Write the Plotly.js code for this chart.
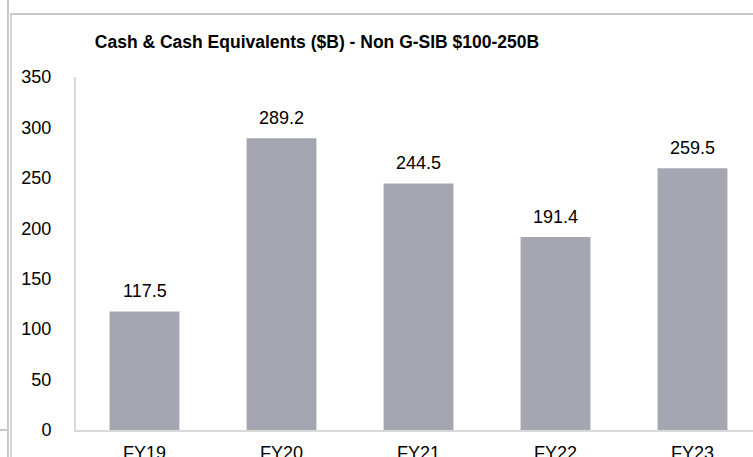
<!DOCTYPE html>
<html>
<head>
<meta charset="utf-8">
<script src="https://cdn.plot.ly/plotly-3.0.1.min.js"></script>
<style>
html,body{margin:0;padding:0;background:#fff;overflow:hidden;width:753px;height:457px;}
#wrap{position:relative;width:753px;height:457px;overflow:hidden;}
#chart{position:absolute;left:0;top:0;width:771px;height:457px;}
.ln{position:absolute;background:#c9c9c9;z-index:5;}
</style>
</head>
<body>
<div id="wrap">
<div id="chart"></div>
<div class="ln" style="left:7px;top:0;width:2px;height:457px;"></div>
<div class="ln" style="left:10px;top:13px;width:2px;height:444px;background:#d6d6d6;"></div>
<div class="ln" style="left:10px;top:13px;width:743px;height:2px;"></div>
<div class="ln" style="left:0;top:429px;width:7px;height:2px;"></div>
</div>
<script>
const categories = ["FY19", "FY20", "FY21", "FY22", "FY23"];
const values = [117.5, 289.2, 244.5, 191.4, 259.5];
const valueLabels = ["117.5", "289.2", "244.5", "191.4", "259.5"];
const yTicks = [0, 50, 100, 150, 200, 250, 300, 350];
const chartTitle = "Cash & Cash Equivalents ($B) - Non G-SIB $100-250B";

const font = "Arial, 'Liberation Sans', sans-serif";

const trace = {
  type: "bar",
  x: categories,
  y: values,
  marker: {color: "#a5a6b1"},
  hoverinfo: "none"
};

const annotations = categories.map((c, i) => ({
  x: c, y: values[i], xref: "x", yref: "y",
  text: valueLabels[i], showarrow: false,
  yanchor: "bottom", yshift: 8,
  font: {family: font, size: 18, color: "#000"}
}));

const layout = {
  width: 771, height: 457,
  margin: {l: 76, r: 10, t: 77, b: 27, pad: 0},
  paper_bgcolor: "#fff", plot_bgcolor: "#fff",
  bargap: 0.49,
  showlegend: false,
  title: {
    text: "<b>" + chartTitle + "</b>",
    xref: "container", yref: "container",
    x: 317 / 771, xanchor: "center",
    y: (457 - 42) / 457, yanchor: "middle",
    font: {family: font, size: 17.5, color: "#000"}
  },
  xaxis: {
    type: "category",
    range: [-0.5, 4.5],
    showline: true, linecolor: "#d9d9d9", linewidth: 2,
    showgrid: false, zeroline: false,
    ticks: "", ticklabelstandoff: 5,
    tickfont: {family: font, size: 18, color: "#000"}
  },
  yaxis: {
    range: [0, 350],
    tickvals: yTicks,
    ticktext: yTicks.map(String),
    showline: true, linecolor: "#d9d9d9", linewidth: 2,
    showgrid: false, zeroline: false,
    ticks: "", ticklabelstandoff: 19,
    tickfont: {family: font, size: 18, color: "#000"}
  },
  annotations: annotations
};

Plotly.newPlot("chart", [trace], layout, {staticPlot: true, displayModeBar: false});
</script>
</body>
</html>
